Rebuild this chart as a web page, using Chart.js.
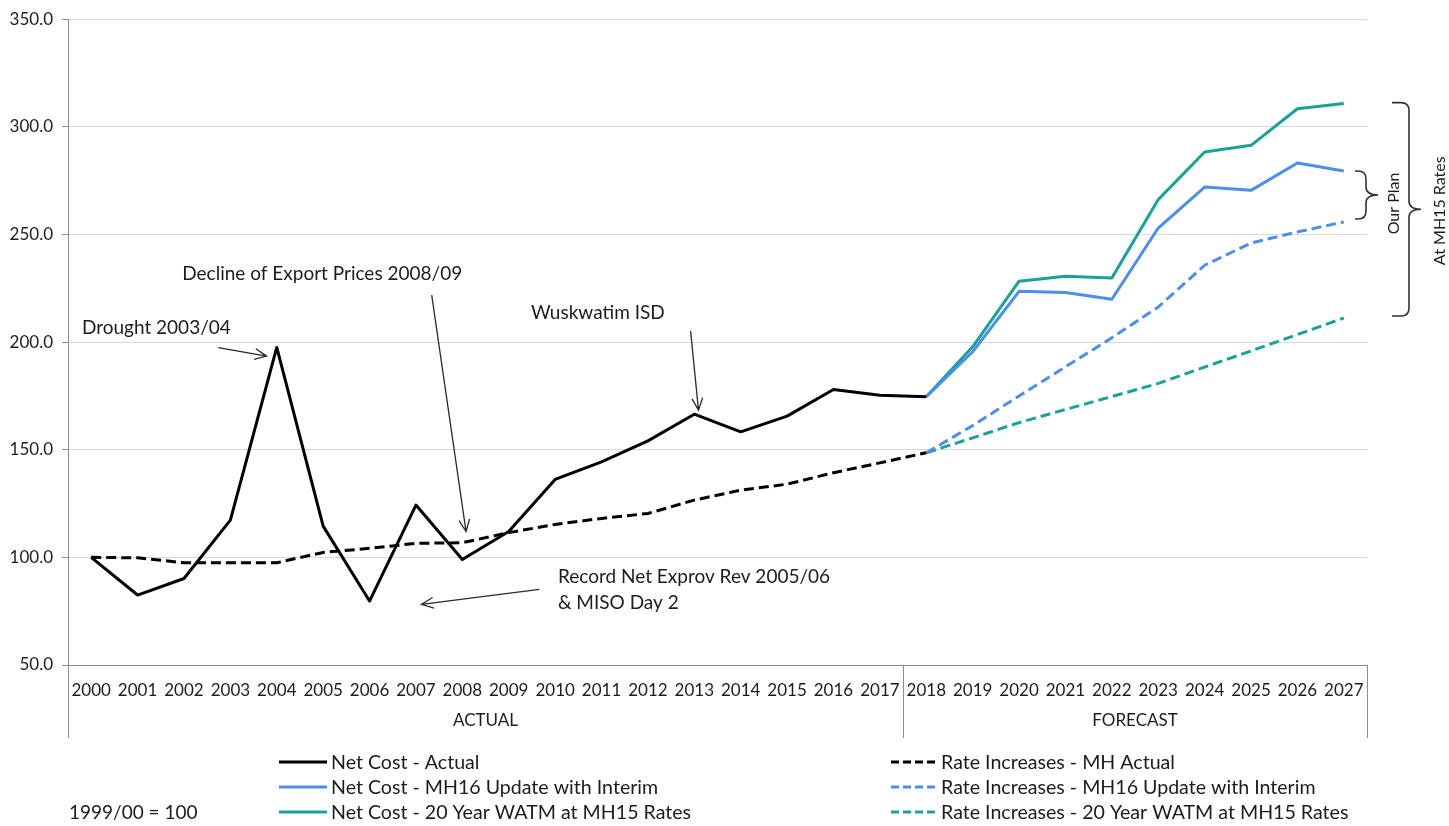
<!DOCTYPE html>
<html>
<head>
<meta charset="utf-8">
<script src="https://cdn.jsdelivr.net/npm/chart.js@4/dist/chart.umd.min.js"></script>
<style>
  html, body { margin: 0; padding: 0; background: #ffffff; }
  #wrap { width: 1449px; height: 826px; position: relative; }
</style>
</head>
<body>
<div id="wrap"><canvas id="chart" width="1449" height="826"></canvas></div>
<script>
// Fiscal years on the category axis
const categories = ['2000','2001','2002','2003','2004','2005','2006','2007','2008','2009',
  '2010','2011','2012','2013','2014','2015','2016','2017','2018','2019',
  '2020','2021','2022','2023','2024','2025','2026','2027'];

// Index values, 1999/00 = 100
const netCostActual = [100, 82.5, 90.2, 117.3, 197.5, 114.5, 79.7, 124.3, 99.0, 112.0,
  136.2, 144.4, 154.1, 166.5, 158.3, 165.6, 178.0, 175.3, 174.6,
  null, null, null, null, null, null, null, null, null];
const rateMHActual = [100, 99.8, 97.5, 97.5, 97.5, 102.3, 104.2, 106.5, 106.8, 111.5,
  115.3, 118.1, 120.4, 126.6, 131.2, 134.0, 139.3, 143.9, 148.6,
  null, null, null, null, null, null, null, null, null];
const netCostMH16 = [null, null, null, null, null, null, null, null, null, null,
  null, null, null, null, null, null, null, null,
  174.6, 195.5, 223.6, 223.0, 219.9, 253.0, 272.0, 270.5, 283.2, 279.5];
const rateMH16 = [null, null, null, null, null, null, null, null, null, null,
  null, null, null, null, null, null, null, null,
  148.6, 161.2, 175.0, 188.5, 202.0, 216.3, 235.7, 246.0, 251.2, 255.8];
const netCost20Yr = [null, null, null, null, null, null, null, null, null, null,
  null, null, null, null, null, null, null, null,
  174.6, 197.8, 228.3, 230.6, 229.8, 266.2, 288.3, 291.4, 308.4, 310.8];
const rate20Yr = [null, null, null, null, null, null, null, null, null, null,
  null, null, null, null, null, null, null, null,
  148.6, 155.5, 162.6, 168.7, 174.7, 180.8, 188.4, 195.9, 203.5, 211.2];

// Y-axis ticks
const yTicks = [50, 100, 150, 200, 250, 300, 350];

// Category groups under the year labels
const groupLabels = ['ACTUAL', 'FORECAST'];
const groupStarts = [0, 18];
const groupEnds = [17, 27];

const FONT = 'Lato, "Noto Sans", sans-serif';
const TEXT = '#1c1c1c';
const BLACK = '#000000';
const BLUE = '#4a8ff0';
const TEAL = '#17a398';
const DASH = [10, 5];

// Callouts, anchored in data space: x = category index, y = index value
const callouts = [
  { lines: ['Drought 2003/04'], align: 'left', at: [-0.2, 206.5],
    from: [2.74, 197.4], to: [3.78, 193.5] },
  { lines: ['Decline of Export Prices 2008/09'], align: 'center', at: [4.98, 231.5],
    from: [7.34, 221.8], to: [8.08, 112.0] },
  { lines: ['Wuskwatim ISD'], align: 'center', at: [10.92, 213.4],
    from: [12.92, 205.2], to: [13.09, 168.4] },
  { lines: ['Record Net Exprov Rev 2005/06', '& MISO Day 2'], align: 'left', at: [10.06, 90.9],
    from: [9.66, 85.1], to: [7.12, 78.2] }
];

function drawArrow(ctx, x1, y1, x2, y2) {
  const ang = Math.atan2(y2 - y1, x2 - x1);
  const head = 13, spread = 0.42;
  ctx.beginPath();
  ctx.moveTo(x1, y1);
  ctx.lineTo(x2, y2);
  ctx.moveTo(x2 - head * Math.cos(ang - spread), y2 - head * Math.sin(ang - spread));
  ctx.lineTo(x2, y2);
  ctx.lineTo(x2 - head * Math.cos(ang + spread), y2 - head * Math.sin(ang + spread));
  ctx.stroke();
}

// Right-facing curly brace between yTop and yBot; stub starts at x0, spine at xs, tip at xt
function drawBrace(ctx, x0, xs, xt, yTop, yBot) {
  const r = Math.min(8, (yBot - yTop) / 4);
  const mid = (yTop + yBot) / 2;
  ctx.beginPath();
  ctx.moveTo(x0, yTop);
  ctx.lineTo(xs - r, yTop);
  ctx.quadraticCurveTo(xs, yTop, xs, yTop + r);
  ctx.lineTo(xs, mid - r);
  ctx.quadraticCurveTo(xs, mid, xt, mid);
  ctx.moveTo(xt, mid);
  ctx.quadraticCurveTo(xs, mid, xs, mid + r);
  ctx.lineTo(xs, yBot - r);
  ctx.quadraticCurveTo(xs, yBot, xs - r, yBot);
  ctx.lineTo(x0, yBot);
  ctx.stroke();
}

const decorPlugin = {
  id: 'decor',
  afterDraw(chart) {
    const { ctx, chartArea: area, scales } = chart;
    const xs = scales.x, ys = scales.y;
    const half = (xs.getPixelForValue(1) - xs.getPixelForValue(0)) / 2;
    const boxBottom = area.bottom + 73;

    ctx.save();
    // Category group box below the year labels
    ctx.strokeStyle = '#8c8c8c';
    ctx.lineWidth = 1;
    ctx.beginPath();
    const edges = [area.left, xs.getPixelForValue(groupStarts[1]) - half, area.right];
    edges.forEach(ex => {
      const px = Math.round(ex) + 0.5;
      ctx.moveTo(px, area.bottom);
      ctx.lineTo(px, boxBottom);
    });
    ctx.stroke();

    ctx.fillStyle = TEXT;
    ctx.font = '17px ' + FONT;
    ctx.textAlign = 'center';
    ctx.textBaseline = 'middle';
    groupLabels.forEach((lab, i) => {
      const l = xs.getPixelForValue(groupStarts[i]) - half;
      const r = xs.getPixelForValue(groupEnds[i]) + half;
      ctx.fillText(lab, (l + r) / 2, area.bottom + 56);
    });

    // Callouts with arrows
    ctx.font = '19px ' + FONT;
    ctx.strokeStyle = '#2a2a2a';
    ctx.lineWidth = 1.3;
    callouts.forEach(c => {
      const tx = xs.getPixelForValue(c.at[0]);
      const ty = ys.getPixelForValue(c.at[1]);
      ctx.textAlign = c.align;
      c.lines.forEach((ln, k) => ctx.fillText(ln, tx, ty + k * 26));
      drawArrow(ctx,
        xs.getPixelForValue(c.from[0]), ys.getPixelForValue(c.from[1]),
        xs.getPixelForValue(c.to[0]), ys.getPixelForValue(c.to[1]));
    });

    // Braces spanning the 2027 spread of each scenario
    const last = categories.length - 1;
    ctx.strokeStyle = '#333333';
    ctx.lineWidth = 1.6;
    const sTop = ys.getPixelForValue(netCostMH16[last]);
    const sBot = ys.getPixelForValue(rateMH16[last]);
    drawBrace(ctx, area.right - 12, area.right - 1, area.right + 11, sTop, sBot - 3);
    const bTop = ys.getPixelForValue(netCost20Yr[last]);
    const bBot = ys.getPixelForValue(rate20Yr[last]);
    drawBrace(ctx, area.right + 25, area.right + 42, area.right + 54, bTop - 1, bBot - 2);

    ctx.font = '16px ' + FONT;
    ctx.textAlign = 'center';
    ctx.textBaseline = 'middle';
    ctx.save();
    ctx.translate(area.right + 27, (sTop + sBot) / 2 + 7);
    ctx.rotate(-Math.PI / 2);
    ctx.fillText('Our Plan', 0, 0);
    ctx.restore();
    ctx.save();
    ctx.translate(area.right + 73, (bTop + bBot) / 2);
    ctx.rotate(-Math.PI / 2);
    ctx.fillText('At MH15 Rates', 0, 0);
    ctx.restore();

    // Two-column legend built from the datasets
    const cols = [
      { x: 279, len: 48, items: [0, 2, 4] },
      { x: 891, len: 46, items: [1, 3, 5] }
    ];
    const rowY = [762, 787, 812];
    ctx.font = '19.6px ' + FONT;
    ctx.textAlign = 'left';
    cols.forEach(col => {
      col.items.forEach((di, r) => {
        const ds = chart.data.datasets[di];
        ctx.strokeStyle = ds.borderColor;
        ctx.lineWidth = 3;
        ctx.setLineDash(ds.borderDash ? [8, 4] : []);
        ctx.beginPath();
        ctx.moveTo(col.x, rowY[r]);
        ctx.lineTo(col.x + col.len, rowY[r]);
        ctx.stroke();
        ctx.setLineDash([]);
        ctx.fillStyle = TEXT;
        ctx.fillText(ds.label, col.x + col.len + 4, rowY[r] + 1);
      });
    });

    ctx.font = '19px ' + FONT;
    ctx.fillText('1999/00 = 100', 69, 813);
    ctx.restore();
  }
};

function lineSet(label, data, color, dashed) {
  return {
    label, data,
    borderColor: color,
    backgroundColor: color,
    borderWidth: 3,
    borderDash: dashed ? DASH : undefined,
    borderJoinStyle: 'round',
    pointRadius: 0,
    pointHoverRadius: 0,
    tension: 0,
    fill: false,
    spanGaps: false
  };
}

new Chart(document.getElementById('chart'), {
  type: 'line',
  data: {
    labels: categories,
    datasets: [
      lineSet('Net Cost - Actual', netCostActual, BLACK, false),
      lineSet('Rate Increases - MH Actual', rateMHActual, BLACK, true),
      lineSet('Net Cost - MH16 Update with Interim', netCostMH16, BLUE, false),
      lineSet('Rate Increases - MH16 Update with Interim', rateMH16, BLUE, true),
      lineSet('Net Cost - 20 Year WATM at MH15 Rates', netCost20Yr, TEAL, false),
      lineSet('Rate Increases - 20 Year WATM at MH15 Rates', rate20Yr, TEAL, true)
    ]
  },
  options: {
    responsive: false,
    animation: false,
    devicePixelRatio: 1,
    layout: { padding: { left: 0, right: 82, top: 19, bottom: 0 } },
    plugins: {
      legend: { display: false },
      tooltip: { enabled: false },
      title: { display: false }
    },
    scales: {
      x: {
        type: 'category',
        offset: true,
        grid: { display: false, drawTicks: false },
        border: { display: true, color: '#8c8c8c', width: 1 },
        ticks: {
          autoSkip: false, maxRotation: 0, minRotation: 0, padding: 15,
          color: TEXT, font: { family: FONT, size: 17 }
        },
        afterFit(scale) { scale.height = 161; }
      },
      y: {
        min: 50, max: 350,
        afterBuildTicks(scale) { scale.ticks = yTicks.map(v => ({ value: v })); },
        grid: { color: '#d9d9d9', lineWidth: 1, tickLength: 6, tickColor: '#8c8c8c', drawTicks: true },
        border: { display: true, color: '#8c8c8c', width: 1 },
        ticks: {
          padding: 9, color: TEXT, font: { family: FONT, size: 17 },
          callback: v => Number(v).toFixed(1)
        },
        afterFit(scale) { scale.width = 68; }
      }
    }
  },
  plugins: [decorPlugin]
});
</script>
</body>
</html>
